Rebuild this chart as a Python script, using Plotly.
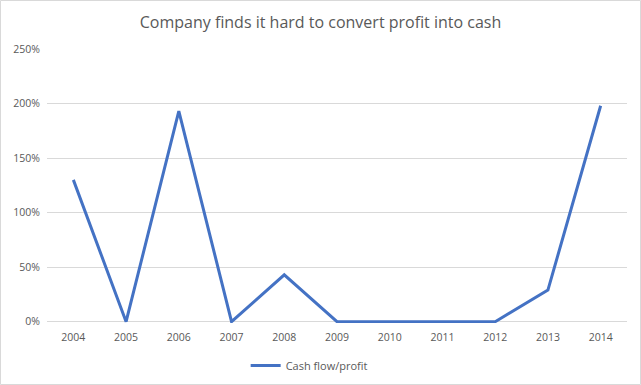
import plotly.graph_objects as go

years = ["2004", "2005", "2006", "2007", "2008", "2009", "2010", "2011", "2012", "2013", "2014"]
cash_flow_profit = [1.30, 0.0, 1.93, 0.0, 0.43, 0.0, 0.0, 0.0, 0.0, 0.29, 1.98]
series_name = "Cash flow/profit"
title_text = "Company finds it hard to convert profit into cash"

fig = go.Figure()
fig.add_trace(go.Scatter(
    x=years, y=cash_flow_profit, mode="lines", name=series_name,
    line=dict(color="#4472C4", width=3), cliponaxis=False,
))

fig.update_layout(
    width=641, height=385,
    margin=dict(l=47, r=14, t=49, b=62, autoexpand=False),
    paper_bgcolor="white", plot_bgcolor="white",
    font=dict(family="Open Sans, Liberation Sans, sans-serif", color="#595959", size=11),
    title=dict(text=title_text, x=0.5, xanchor="center", yref="container", y=0.943, yanchor="middle",
               font=dict(size=16, color="#595959")),
    showlegend=True,
    legend=dict(orientation="h", x=0.452, xanchor="center", y=-0.155, yanchor="middle",
                font=dict(size=11, color="#595959"), itemwidth=30),
    xaxis=dict(type="category", range=[-0.5, 10.5], showgrid=False, showline=False, ticks="",
               automargin=False, ticklabelstandoff=6, tickfont=dict(size=10.5, color="#595959")),
    yaxis=dict(range=[-0.012, 2.5], dtick=0.5, tick0=0, tickformat=".0%",
               showgrid=True, gridcolor="#d9d9d9", gridwidth=1,
               zeroline=True, zerolinecolor="#d9d9d9", zerolinewidth=1,
               showline=False, ticks="", automargin=False, ticklabelstandoff=6,
               tickfont=dict(size=10.5, color="#595959")),
    shapes=[dict(type="rect", xref="paper", yref="paper", x0=-46.5/580, x1=1+13.5/580,
                 y0=-61.5/274, y1=1+48.5/274, line=dict(color="#d9d9d9", width=1))],
)

fig.write_html("out.html", config={"displayModeBar": False},
               post_script="document.body.style.margin='0';document.body.style.padding='0';")
